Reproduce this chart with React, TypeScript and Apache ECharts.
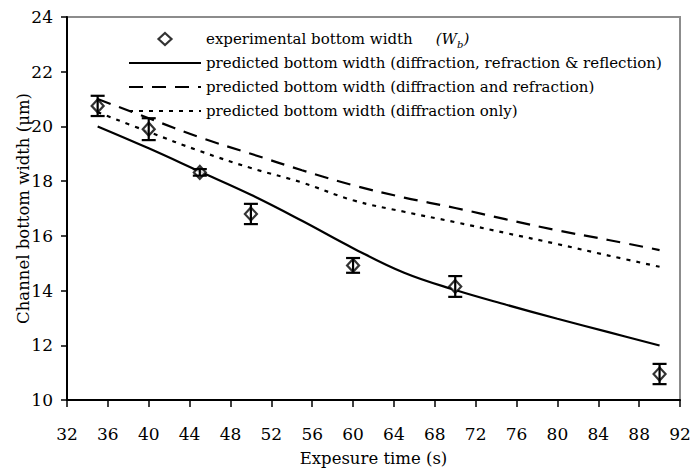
import React, { useEffect, useRef } from "react";
import * as echarts from "echarts";

const xTicks = { min: 32, max: 92, interval: 4 };
const yTicks = { min: 10, max: 24, interval: 2 };

const expTime = [35, 40, 45, 50, 60, 70, 90];
const expWidth = [20.75, 19.9, 18.32, 16.8, 14.92, 14.15, 10.95];
const expErr = [0.37, 0.4, 0.12, 0.37, 0.27, 0.38, 0.37];

const predTime = [35, 40, 45, 50, 55, 60, 65, 70, 75, 80, 85, 90];
const predFull = [20.0, 19.2, 18.35, 17.5, 16.55, 15.55, 14.65, 14.02, 13.48, 12.97, 12.48, 11.99];
const predDiffRefr = [21.0, 20.3, 19.6, 19.0, 18.4, 17.85, 17.4, 17.02, 16.6, 16.2, 15.85, 15.48];
const predDiffOnly = [20.52, 19.8, 19.1, 18.48, 17.95, 17.3, 16.88, 16.5, 16.1, 15.7, 15.28, 14.87];

const names = [
  "experimental bottom width",
  "predicted bottom width (diffraction, refraction & reflection)",
  "predicted bottom width (diffraction and refraction)",
  "predicted bottom width (diffraction only)",
];

const F = "DejaVu Serif";
const HIDDEN = { color: "rgba(0,0,0,0)", borderColor: "rgba(0,0,0,0)", borderWidth: 0, opacity: 0 };

export default function App() {
  const ref = useRef<HTMLDivElement>(null);
  useEffect(() => {
    if (!ref.current) return;
    const chart = echarts.init(ref.current, undefined, { renderer: "svg" });
    const zip = (xs: number[], ys: number[]) => xs.map((x, i) => [x, ys[i]]);
    const errData = expTime.map((x, i) => [x, expWidth[i] - expErr[i], expWidth[i] + expErr[i]]);
    chart.setOption({
      animation: false,
      backgroundColor: "#ffffff",
      textStyle: { fontFamily: F, color: "#000" },
      grid: {
        left: 67,
        right: 14,
        top: 17,
        bottom: 72,
        outerBoundsMode: "none",
        show: true,
        borderColor: "#8c8c8c",
        borderWidth: 2,
        backgroundColor: "transparent",
      },
      legend: {
        orient: "vertical",
        left: 128,
        top: 29,
        padding: 0,
        itemWidth: 72,
        itemHeight: 12,
        itemGap: 4,
        symbolKeepAspect: true,
        data: [
          {
            name: names[0],
            icon: "path://M0,-6L6.5,0L0,6L-6.5,0Z",
            itemStyle: { color: "#fff", borderColor: "#000", borderWidth: 2.2 },
          },
          { name: names[1], itemStyle: HIDDEN },
          { name: names[2], itemStyle: HIDDEN },
          { name: names[3], itemStyle: HIDDEN },
        ],
        textStyle: {
          fontFamily: F,
          fontSize: 15,
          color: "#000",
          lineHeight: 20,
          rich: {
            sp: { width: 23, fontSize: 15, lineHeight: 20 },
            it: { fontFamily: F, fontStyle: "italic", fontSize: 15, lineHeight: 20, color: "#000" },
            sub: {
              fontFamily: F,
              fontStyle: "italic",
              fontSize: 10,
              lineHeight: 8,
              verticalAlign: "bottom",
              color: "#000",
            },
          },
        },
        formatter: (name: string) =>
          name === names[0] ? name + "{sp| }{it|(W}{sub|b}{it|)}" : name,
      },
      xAxis: {
        type: "value",
        min: xTicks.min,
        max: xTicks.max,
        interval: xTicks.interval,
        name: "Expesure time (s)",
        nameLocation: "middle",
        nameGap: 50,
        nameMoveOverlap: false,
        nameTextStyle: { fontFamily: F, fontSize: 16.5, color: "#000" },
        axisLine: { onZero: false, lineStyle: { color: "#000", width: 2 } },
        axisTick: { show: true, inside: false, length: 7, lineStyle: { color: "#000", width: 1.5 } },
        axisLabel: { margin: 25, fontFamily: F, fontSize: 17, color: "#000" },
        splitLine: { show: false },
      },
      yAxis: {
        type: "value",
        min: yTicks.min,
        max: yTicks.max,
        interval: yTicks.interval,
        name: "Channel bottom width (μm)",
        nameLocation: "middle",
        nameGap: 35,
        nameMoveOverlap: false,
        nameTextStyle: { fontFamily: F, fontSize: 16.5, color: "#000" },
        axisLine: { onZero: false, lineStyle: { color: "#000", width: 2 } },
        axisTick: { show: true, inside: false, length: 6, lineStyle: { color: "#000", width: 1.5 } },
        axisLabel: { margin: 14, fontFamily: F, fontSize: 17, color: "#000" },
        splitLine: { show: false },
      },
      series: [
        {
          name: names[1],
          type: "line",
          smooth: 0.4,
          symbol: "none",
          data: zip(predTime, predFull),
          lineStyle: { color: "#000", width: 2.2, type: "solid" },
          itemStyle: { color: "#000" },
          z: 2,
        },
        {
          name: names[2],
          type: "line",
          smooth: 0.4,
          symbol: "none",
          data: zip(predTime, predDiffRefr),
          lineStyle: { color: "#000", width: 2.2, type: [14, 9] },
          itemStyle: { color: "#000" },
          z: 2,
        },
        {
          name: names[3],
          type: "line",
          smooth: 0.4,
          symbol: "none",
          data: zip(predTime, predDiffOnly),
          lineStyle: { color: "#000", width: 2.2, type: [4, 6] },
          itemStyle: { color: "#000" },
          z: 2,
        },
        {
          name: names[0],
          type: "scatter",
          symbol: "diamond",
          symbolSize: [12, 13],
          data: zip(expTime, expWidth),
          itemStyle: { color: "#fff", borderColor: "#000", borderWidth: 2.2 },
          z: 4,
        },
        {
          name: "error",
          type: "custom",
          data: errData,
          z: 5,
          silent: true,
          renderItem: (params: any, api: any) => {
            const x = api.value(0);
            const lo = api.coord([x, api.value(1)]);
            const hi = api.coord([x, api.value(2)]);
            const hw = 7;
            const style = { stroke: "#000", lineWidth: 2.2, fill: "none" };
            return {
              type: "group",
              children: [
                { type: "line", shape: { x1: lo[0], y1: lo[1], x2: hi[0], y2: hi[1] }, style },
                { type: "line", shape: { x1: lo[0] - hw, y1: lo[1], x2: lo[0] + hw, y2: lo[1] }, style },
                { type: "line", shape: { x1: hi[0] - hw, y1: hi[1], x2: hi[0] + hw, y2: hi[1] }, style },
              ],
            };
          },
        },
      ],
    });
    return () => chart.dispose();
  }, []);
  return (
    <div
      ref={ref}
      style={{ position: "absolute", left: 0, top: 0, width: 694, height: 472, overflow: "hidden" }}
    />
  );
}
